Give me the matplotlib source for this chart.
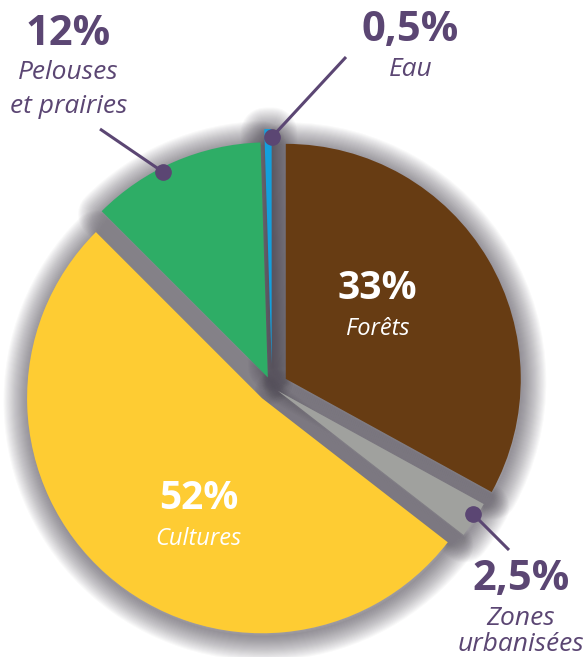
import matplotlib
matplotlib.use("Agg")
import matplotlib.pyplot as plt
from matplotlib.patches import Wedge

# ---- data ----
categories = ["Forêts", "Zones\nurbanisées", "Cultures", "Pelouses\net prairies", "Eau"]
values = [33, 2.5, 52, 12, 0.5]
pct_labels = ["33%", "2,5%", "52%", "12%", "0,5%"]
colors = ["#673C13", "#A0A19E", "#FECC33", "#2EAD66", "#139FDD"]
explode = [16, 7, 15, 10.5, 23]   # offsets in pixel units

PURPLE = "#5B4673"
FONT = ["Open Sans", "DejaVu Sans"]

W, H = 587, 657
fig = plt.figure(figsize=(W / 100, H / 100), dpi=100)
ax = fig.add_axes([0, 0, 1, 1])

wedges, _ = ax.pie(values, colors=colors, startangle=90, counterclock=False,
                   explode=explode, center=(272, 270), radius=235,
                   wedgeprops=dict(linewidth=0, zorder=5))

# soft drop shadow built from copies of the wedges
shadow_col = "#38323F"
n_layers = 24
for w in wedges:
    cx, cy = w.center
    for k in range(n_layers):
        lw_px = 1 + 48 * k / (n_layers - 1)
        sh = Wedge((cx + 1, cy - 3), w.r, w.theta1, w.theta2,
                   facecolor="none", edgecolor=shadow_col,
                   linewidth=lw_px * 0.72, alpha=0.029, joinstyle="round",
                   zorder=1)
        ax.add_patch(sh)

ax.set_xlim(0, W)
ax.set_ylim(0, H)
ax.set_aspect("equal")
ax.axis("off")

# ---- inner labels ----
ax.text(377.5, 358, pct_labels[0], color="white", fontsize=28, fontweight="bold",
        ha="center", va="baseline", family=FONT, zorder=10)
ax.text(377.5, 322, categories[0], color="white", fontsize=17, fontstyle="italic",
        ha="center", va="baseline", family=FONT, zorder=10)
ax.text(199, 148, pct_labels[2], color="white", fontsize=28, fontweight="bold",
        ha="center", va="baseline", family=FONT, zorder=10)
ax.text(198, 112, categories[2], color="white", fontsize=17, fontstyle="italic",
        ha="center", va="baseline", family=FONT, zorder=10)

# ---- outer labels ----
def outer(x, y_pct, pct, name_lines, y_names):
    ax.text(x, y_pct, pct, color=PURPLE, fontsize=30, fontweight="bold",
            ha="center", va="baseline", family=FONT, zorder=10)
    for line, yy in zip(name_lines, y_names):
        ax.text(x, yy, line, color=PURPLE, fontsize=19, fontstyle="italic",
                ha="center", va="baseline", family=FONT, zorder=10)

outer(68.5, 612, pct_labels[3], categories[3].split("\n"), [578, 544])
outer(410.5, 616, pct_labels[4], categories[4].split("\n"), [581])
outer(521, 67, pct_labels[1], categories[1].split("\n"), [32, 6])

# ---- leader lines with dots ----
leaders = [((100, 528), (163, 485)), ((346, 600), (272, 520)), ((509, 107), (473, 143))]
for (x0, y0), (x1, y1) in leaders:
    ax.plot([x0, x1], [y0, y1], color=PURPLE, lw=2.2, solid_capstyle="butt", zorder=11)
    ax.plot([x1], [y1], "o", color=PURPLE, markersize=11, zorder=12)

fig.savefig("out.png", dpi=100)
